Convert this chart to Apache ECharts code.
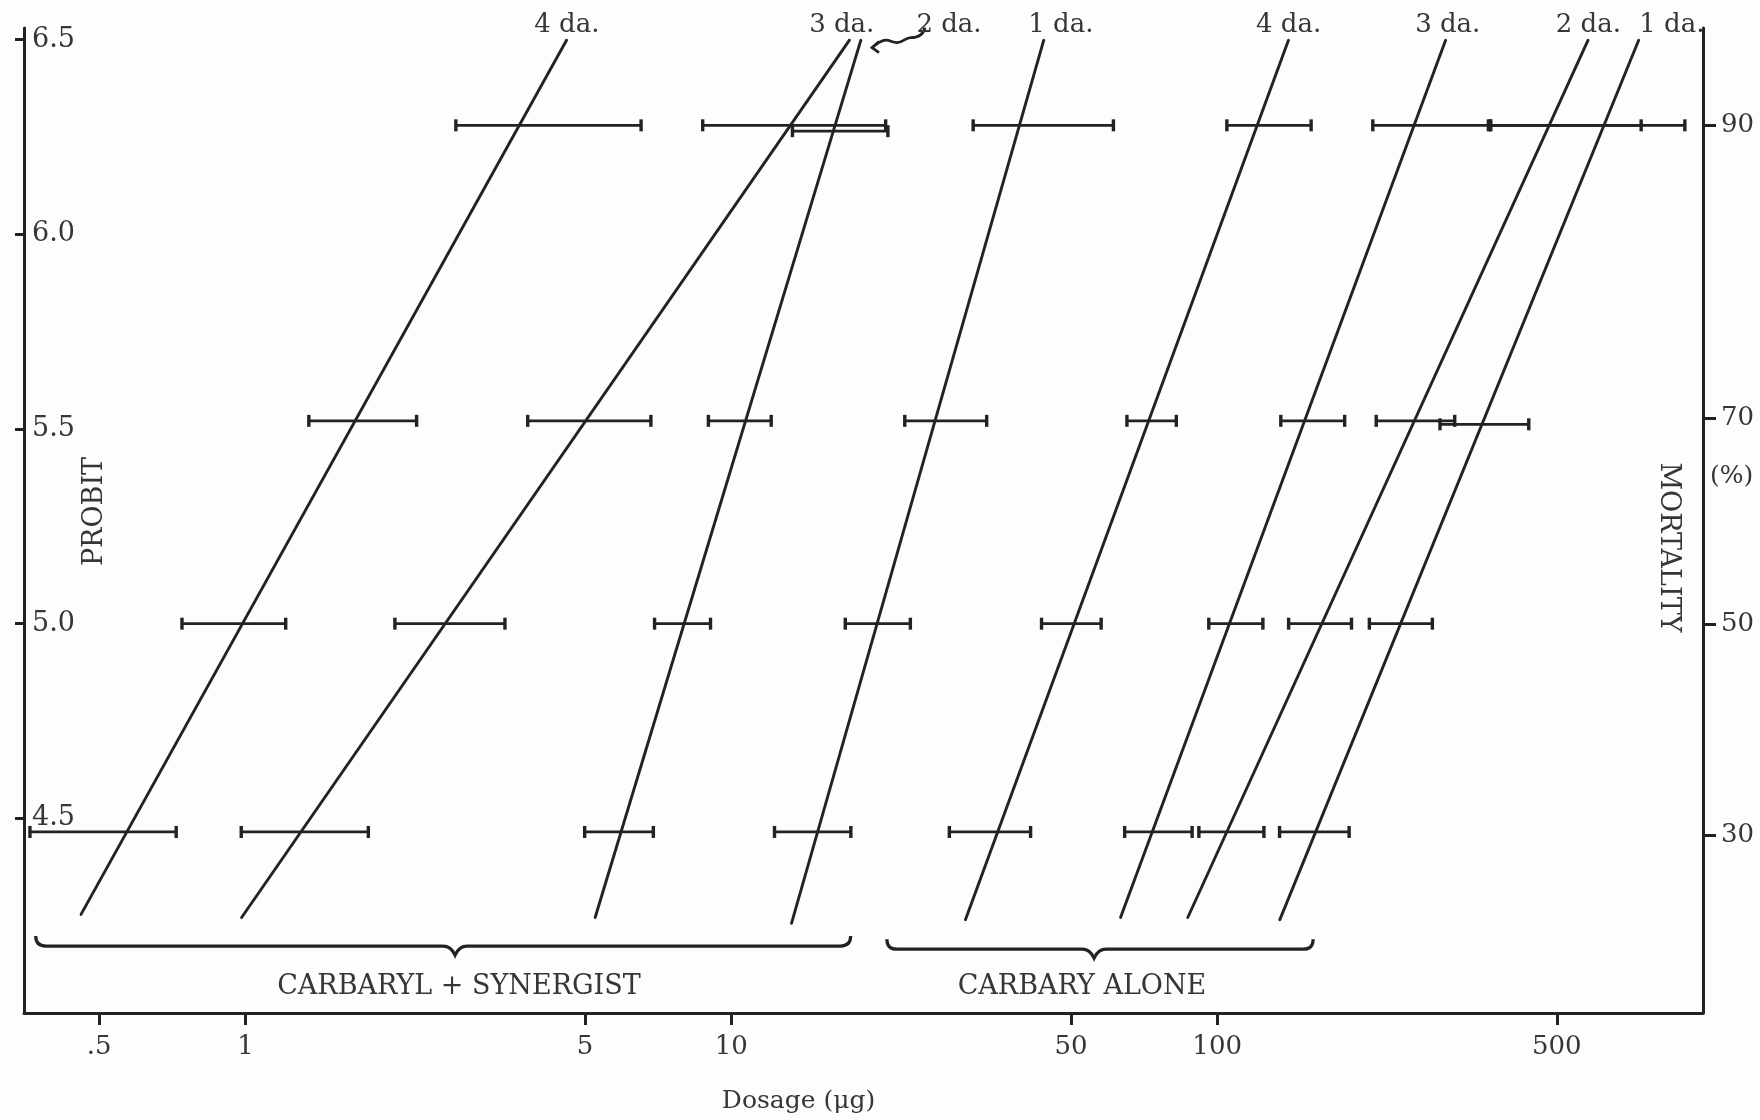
<!DOCTYPE html>
<html>
<head>
<meta charset="utf-8">
<script src="https://cdn.jsdelivr.net/npm/echarts@6/dist/echarts.min.js"></script>
<style>
html,body{margin:0;padding:0;background:#fdfdfd;}
#c{width:1760px;height:1120px;}
</style>
</head>
<body>
<div id="c"></div>
<script>
// ---------- data ----------
// probit regression lines (dose in micrograms, log scale)
const lineNames      = ['4 da.', '3 da.', '2 da.', '1 da.', '4 da.', '3 da.', '2 da.', '1 da.'];
const lineGroup      = ['syn', 'syn', 'syn', 'syn', 'alone', 'alone', 'alone', 'alone'];
const lineLowDose    = [0.458, 0.980, 5.24, 13.29, 30.3, 63.2, 86.9, 134.4];
const lineLowProbit  = [4.252, 4.244, 4.244, 4.229, 4.238, 4.244, 4.244, 4.238];
const lineHighDose   = [4.585, 17.53, 18.49, 43.99, 140.3, 295.5, 580.6, 737.9];
const lineHighProbit = [6.5, 6.5, 6.5, 6.5, 6.5, 6.5, 6.5, 6.5];

// confidence limits at 30, 50, 70, 90 % mortality
const ci30Low  = [0.36, 0.98, 4.99, 12.27, 28.1, 64.5, 91.7, 134.4];
const ci30High = [0.72, 1.79, 6.91, 17.62, 41.3, 88.8, 124.8, 186.9];
const ci50Low  = [0.74, 2.03, 6.95, 17.16, 43.5, 96.1, 140.3, 205.7];
const ci50High = [1.21, 3.42, 9.06, 23.36, 57.7, 124.2, 189.0, 277.3];
const ci70Low  = [1.35, 3.81, 8.97, 22.75, 65.2, 135.2, 212.5, 287.5];
const ci70High = [2.25, 6.83, 12.08, 33.54, 82.4, 183.0, 308.3, 437.9];
const ci90Low  = [2.71, 8.73, 13.36, 31.46, 104.7, 209.1, 365.4, 365.4];
const ci90High = [6.52, 20.78, 21.0, 61.16, 156.1, 361.6, 745.9, 917.6];
const ciProbit30 = [4.465, 4.465, 4.465, 4.465, 4.465, 4.465, 4.465, 4.465];
const ciProbit50 = [5.0, 5.0, 5.0, 5.0, 5.0, 5.0, 5.0, 5.0];
const ciProbit70 = [5.521, 5.521, 5.521, 5.521, 5.521, 5.521, 5.521, 5.512];
const ciProbit90 = [6.28, 6.28, 6.265, 6.28, 6.28, 6.28, 6.28, 6.28];

// axes
const xTickValues = [0.5, 1, 5, 10, 50, 100, 500];
const xTickLabels = ['.5', '1', '5', '10', '50', '100', '500'];
const probitTicks = [4.5, 5.0, 5.5, 6.0, 6.5];
const mortalityLabels = ['30', '50', '70', '90'];
const mortalityProbit = [4.456, 4.999, 5.528, 6.28];
const unitNote = '(%)';
const unitNoteProbit = 5.377;   // "(%)" note beside the mortality axis

// group braces
const groupNames     = ['CARBARYL + SYNERGIST', 'CARBARY ALONE'];
const braceLeftDose  = [0.37, 20.9];
const braceRightDose = [17.6, 157.6];
const braceMidDose   = [2.70, 55.8];
const braceProbit    = [4.172, 4.164];
const groupLabelDose = [2.75, 52.7];
const groupLabelProbit = [4.068, 4.068];

// ---------- styling ----------
const FONT = '"DejaVu Serif", "Liberation Serif", serif';
const INK = '#222222';
const TXT = '#363636';
const labelDx = [0, -8, 88, 17, 0, 2, 0, 33];

const L = v => Math.log10(v);

function xFmt(v) {
  for (let i = 0; i < xTickValues.length; i++) {
    if (Math.abs(L(xTickValues[i]) - v) < 1e-6) return xTickLabels[i];
  }
  return '';
}
function mortFmt(v) {
  for (let i = 0; i < mortalityProbit.length; i++) {
    if (Math.abs(mortalityProbit[i] - v) < 1e-6) return mortalityLabels[i];
  }
  return '';
}

// line series
const lineSeries = lineNames.map((n, i) => ({
  type: 'line',
  name: n + ' ' + lineGroup[i],
  xAxisIndex: 0, yAxisIndex: 0,
  silent: true,
  symbol: 'circle',
  symbolSize: 2,
  showSymbol: true,
  itemStyle: { color: INK },
  lineStyle: { color: INK, width: 2.9 },
  emphasis: { disabled: true },
  data: [
    [L(lineLowDose[i]), lineLowProbit[i]],
    {
      value: [L(lineHighDose[i]), lineHighProbit[i]],
      label: {
        show: true, formatter: n, position: 'top', distance: 0,
        offset: [labelDx[i], 0],
        fontFamily: FONT, fontSize: 26, color: TXT
      }
    }
  ]
}));

// error bar data
const ciData = [];
const rowsLow = [ci30Low, ci50Low, ci70Low, ci90Low];
const rowsHigh = [ci30High, ci50High, ci70High, ci90High];
const rowsProbit = [ciProbit30, ciProbit50, ciProbit70, ciProbit90];
for (let r = 0; r < 4; r++) {
  for (let i = 0; i < lineNames.length; i++) {
    ciData.push([L(rowsLow[r][i]), L(rowsHigh[r][i]), rowsProbit[r][i]]);
  }
}

const ciSeries = {
  type: 'custom',
  name: 'confidence limits',
  silent: true,
  encode: { x: [0, 1], y: 2 },
  data: ciData,
  renderItem: function (params, api) {
    const p1 = api.coord([api.value(0), api.value(2)]);
    const p2 = api.coord([api.value(1), api.value(2)]);
    const h = 6;
    const st = { stroke: INK, lineWidth: 2.8 };
    return {
      type: 'group',
      children: [
        { type: 'line', shape: { x1: p1[0], y1: p1[1], x2: p2[0], y2: p2[1] }, style: st },
        { type: 'line', shape: { x1: p1[0], y1: p1[1] - h, x2: p1[0], y2: p1[1] + h }, style: { stroke: INK, lineWidth: 3.4 } },
        { type: 'line', shape: { x1: p2[0], y1: p2[1] - h, x2: p2[0], y2: p2[1] + h }, style: { stroke: INK, lineWidth: 3.4 } }
      ]
    };
  }
};

const braceData = groupNames.map((g, k) => [
  L(braceLeftDose[k]), L(braceRightDose[k]), L(braceMidDose[k]), braceProbit[k],
  L(groupLabelDose[k]), groupLabelProbit[k]
]);

const braceSeries = {
  type: 'custom',
  name: 'groups',
  silent: true,
  encode: { x: [0, 1], y: 3 },
  data: braceData,
  renderItem: function (params, api) {
    const pL = api.coord([api.value(0), api.value(3)]);
    const pR = api.coord([api.value(1), api.value(3)]);
    const pM = api.coord([api.value(2), api.value(3)]);
    const pT = api.coord([api.value(4), api.value(5)]);
    const y = pL[1], xL = pL[0], xR = pR[0], xM = pM[0];
    const d = 'M ' + xL + ' ' + (y - 10) +
      ' Q ' + xL + ' ' + y + ' ' + (xL + 10) + ' ' + y +
      ' L ' + (xM - 12) + ' ' + y +
      ' Q ' + (xM - 4) + ' ' + y + ' ' + xM + ' ' + (y + 9) +
      ' Q ' + (xM + 4) + ' ' + y + ' ' + (xM + 12) + ' ' + y +
      ' L ' + (xR - 10) + ' ' + y +
      ' Q ' + xR + ' ' + y + ' ' + xR + ' ' + (y - 10);
    return {
      type: 'group',
      children: [
        { type: 'path', shape: { pathData: d }, style: { stroke: INK, lineWidth: 3.2, fill: null } },
        {
          type: 'text', x: pT[0], y: pT[1],
          style: {
            text: groupNames[params.dataIndex], fill: TXT,
            fontFamily: FONT, fontSize: 27,
            align: 'center', verticalAlign: 'middle',
            textAlign: 'center', textVerticalAlign: 'middle'
          }
        }
      ]
    };
  }
};

// squiggly arrow from "2 da." label to its line
const arrowSeries = {
  type: 'custom',
  name: 'arrow',
  silent: true,
  encode: { x: 0, y: 1 },
  data: [[L(lineHighDose[2]), lineHighProbit[2]]],
  renderItem: function (params, api) {
    const p = api.coord([api.value(0), api.value(1)]);
    const x = p[0], y = p[1];
    const P = (dx, dy) => (x + dx) + ' ' + (y + dy);
    const d = 'M ' + P(64, -12) + ' C ' + P(62, -4) + ' ' + P(56, -2) + ' ' + P(50, -2) +
      ' C ' + P(44, -2) + ' ' + P(42, 3) + ' ' + P(36, 3) +
      ' C ' + P(30, 3) + ' ' + P(28, -1) + ' ' + P(22, 1) +
      ' C ' + P(16, 3) + ' ' + P(14, 6) + ' ' + P(11, 8) +
      ' M ' + P(18, 2) + ' L ' + P(11, 8) + ' L ' + P(18, 13);
    return { type: 'path', shape: { pathData: d }, style: { stroke: INK, lineWidth: 2.8, fill: null } };
  }
};

// "(%)" unit note beside the mortality axis
const unitSeries = {
  type: 'custom',
  name: 'unit',
  silent: true,
  clip: false,
  encode: { x: 0, y: 1 },
  yAxisIndex: 1,
  data: [[3, unitNoteProbit]],
  renderItem: function (params, api) {
    const p = api.coord([api.value(0), api.value(1)]);
    return {
      type: 'text', x: p[0] + 7, y: p[1],
      style: {
        text: unitNote, fill: TXT, fontFamily: FONT, fontSize: 25,
        align: 'left', verticalAlign: 'middle', textAlign: 'left', textVerticalAlign: 'middle'
      }
    };
  }
};

const axisLineStyle = { color: INK, width: 3 };

const option = {
  animation: false,
  backgroundColor: '#fdfdfd',
  textStyle: { fontFamily: FONT, color: TXT },
  grid: { left: 24, right: 57, top: 28, bottom: 107, containLabel: false, outerBoundsMode: 'none' },
  xAxis: {
    type: 'value',
    min: L(0.35), max: 3,
    name: 'Dosage (μg)',
    nameLocation: 'middle',
    nameGap: 76,
    nameMoveOverlap: false,
    nameTextStyle: { fontFamily: FONT, fontSize: 25, color: TXT, padding: [0, 130, 0, 0] },
    axisLine: { show: true, onZero: false, lineStyle: axisLineStyle },
    axisTick: { show: true, inside: false, length: 12, customValues: xTickValues.map(L), lineStyle: { color: INK, width: 3 } },
    axisLabel: { show: true, customValues: xTickValues.map(L), formatter: xFmt, margin: 21, fontFamily: FONT, fontSize: 26, color: TXT },
    splitLine: { show: false }
  },
  yAxis: [
    {
      type: 'value',
      position: 'left',
      min: 4, max: 6.53,
      name: 'PROBIT',
      nameLocation: 'middle',
      nameRotate: 90,
      nameGap: -84,
      nameMoveOverlap: false,
      nameTextStyle: { fontFamily: FONT, fontSize: 27, color: TXT, padding: [0, 0, 0, 18] },
      axisLine: { show: true, onZero: false, lineStyle: axisLineStyle },
      axisTick: { show: true, inside: false, length: 9, customValues: probitTicks, lineStyle: { color: INK, width: 3 } },
      axisLabel: {
        show: true, inside: true, margin: 8, customValues: probitTicks,
        formatter: v => v.toFixed(1),
        fontFamily: FONT, fontSize: 27, color: TXT
      },
      splitLine: { show: false }
    },
    {
      type: 'value',
      position: 'right',
      min: 4, max: 6.53,
      name: 'MORTALITY',
      nameLocation: 'middle',
      nameRotate: -90,
      nameGap: -48,
      nameMoveOverlap: false,
      nameTextStyle: { fontFamily: FONT, fontSize: 27, color: TXT, padding: [0, 0, 0, 54] },
      axisLine: { show: true, onZero: false, lineStyle: axisLineStyle },
      axisTick: { show: true, inside: false, length: 13, customValues: mortalityProbit, lineStyle: { color: INK, width: 3 } },
      axisLabel: {
        show: true, margin: 18, customValues: mortalityProbit,
        formatter: mortFmt,
        fontFamily: FONT, fontSize: 26, color: TXT
      },
      splitLine: { show: false }
    }
  ],
  series: lineSeries.concat([ciSeries, braceSeries, arrowSeries, unitSeries])
};

const chart = echarts.init(document.getElementById('c'), null, { renderer: 'canvas' });
chart.setOption(option);
</script>
</body>
</html>
